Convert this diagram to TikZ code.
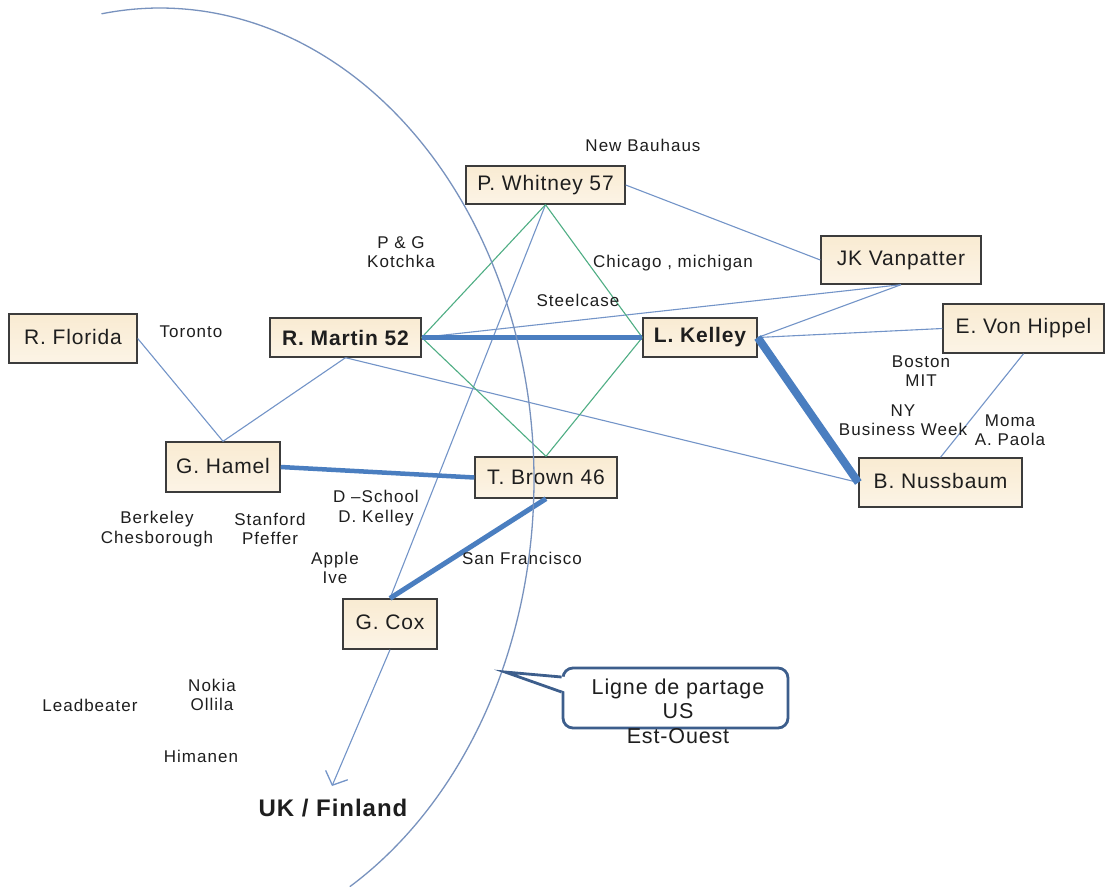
\documentclass[tikz,border=0pt]{standalone}
\usepackage{fontspec}
\setmainfont{Liberation Sans}[LetterSpace=4]
\usetikzlibrary{arrows.meta}
\definecolor{thinblue}{HTML}{7394C8}
\definecolor{arcblue}{HTML}{7892BE}
\definecolor{thickblue}{HTML}{4A7EC0}
\definecolor{linkgreen}{HTML}{4FAE84}
\definecolor{boxtop}{HTML}{F9EBD2}
\definecolor{boxbot}{HTML}{FCF4E6}
\definecolor{boxline}{HTML}{3C3C3C}
\definecolor{txt}{HTML}{1E1E1E}
\definecolor{coline}{HTML}{3D5E8C}
\tikzset{
  box/.style={draw=boxline, line width=1.4pt, top color=boxtop, bottom color=boxbot,
    inner sep=0pt, text=txt, font=\fontsize{21}{24}\selectfont},
  bbox/.style={box, font=\fontsize{21}{24}\selectfont\bfseries},
  lbl/.style={inner sep=0pt, align=center, text=txt,
    font=\fontsize{17}{19.5}\selectfont\addfontfeatures{LetterSpace=6}},
  thin/.style={draw=thinblue, line width=1.1pt},
  green/.style={draw=linkgreen, line width=1.1pt},
  thick/.style={draw=thickblue, line width=#1},
  arcline/.style={draw=arcblue, line width=1.3pt},
}
\begin{document}
\begin{tikzpicture}[x=1pt,y=-1pt]
\useasboundingbox (0,0) rectangle (1105,886);
\fill[white] (0,0) rectangle (1105,886);

% boxes
\node[box, minimum width=159, minimum height=38] (pw) at (545.5,185) {P. Whitney 57};
\node[box, minimum width=160, minimum height=48] (jk) at (901,260) {\raisebox{4pt}{JK Vanpatter}};
\node[box, minimum width=128, minimum height=49] (rf) at (73,338.5) {\raisebox{4pt}{R. Florida}};
\node[bbox, minimum width=151, minimum height=39] (rm) at (345.5,337.5) {R. Martin 52};
\node[box, minimum width=114, minimum height=50] (gh) at (223,467) {\raisebox{3pt}{G. Hamel}};
\node[bbox, minimum width=114, minimum height=39] (lk) at (700,337.5) {L. Kelley};
\node[box, minimum width=161, minimum height=49] (ev) at (1023.5,328.5) {\raisebox{4pt}{E. Von Hippel}};
\node[box, minimum width=163, minimum height=49] (bn) at (940.5,482.5) {\raisebox{3pt}{B. Nussbaum}};
\node[box, minimum width=142, minimum height=41] (tb) at (546,477.5) {T. Brown 46};
\node[box, minimum width=94, minimum height=50] (gc) at (390,624) {\raisebox{3pt}{G. Cox}};

% thin blue links
\draw[thin] (pw.east) -- (jk.west);
\draw[thin] (pw.south) -- (gc.north);
\draw[thin] (rm.east) -- (jk.south);
\draw[thin] (lk.east) -- (jk.south);
\draw[thin] (lk.east) -- (ev.west);
\draw[thin] (rm.south) -- (bn.west);
\draw[thin] (rm.south) -- (gh.north);
\draw[thin] (rf.east) -- (gh.north);
\draw[thin] (ev.south) -- (bn.north);

% green links
\draw[green] (pw.south) -- (rm.east);
\draw[green] (pw.south) -- (lk.west);
\draw[green] (tb.north) -- (rm.east);
\draw[green] (tb.north) -- (lk.west);

% thick links
\draw[thick=5pt] (rm.east) -- (lk.west);
\draw[thick=8pt] (lk.east) -- (bn.west);
\draw[thick=4.5pt] (gh.east) -- (tb.west);
\draw[thick=5pt] (tb.south) -- (gc.north);

% arrow to UK / Finland
\coordinate (ukarrow) at (332,786);
\draw[thin, -{Straight Barb[length=11pt,width=24pt,line width=1.3pt]}] (gc.south) -- (ukarrow);
\node[inner sep=0pt, text=txt, font=\fontsize{24}{26}\selectfont\bfseries] (ukf) at (333,808) {UK / Finland};

% labels
\node[lbl] (newb) at (643,145) {New Bauhaus};
\node[lbl] (chic) at (673,263) {Chicago , michigan};
\node[lbl] (steel) at (578,300) {Steelcase};
\node[lbl] (pg) at (401,252) {P \& G\\Kotchka};
\node[lbl] (tor) at (191,332) {Toronto};
\node[lbl] (berk) at (157,529) {Berkeley\\Chesborough};
\node[lbl] (stan) at (270,529) {Stanford\\Pfeffer};
\node[lbl] (dsch) at (376,508) {D –School\\D. Kelley};
\node[lbl] (apple) at (335,568) {Apple\\Ive};
\node[lbl] (sf) at (522,558) {San Francisco};
\node[lbl] (bos) at (921,371) {Boston\\MIT};
\node[lbl] (ny) at (903,420) {NY\\Business Week};
\node[lbl] (moma) at (1010,430) {Moma\\A. Paola};
\node[lbl] (lead) at (90,705) {Leadbeater};
\node[lbl] (nokia) at (212,695) {Nokia\\Ollila};
\node[lbl] (him) at (201,756) {Himanen};

% dividing arc
\begin{scope}
\clip (0,0) rectangle (1105,886);
\draw[arcline] plot[domain=-99:59.5, samples=140, smooth] ({160+374*cos(\x)}, {480+472*sin(\x)});
\end{scope}

% callout
\node[draw=coline, line width=2.8pt, fill=white, rounded corners=10pt,
      minimum width=225, minimum height=60, inner sep=0pt] (cobox) at (675.5,698) {};
\coordinate (cotip) at (505,672);
\fill[white] (cotip) -- (566.5,677) -- (566.5,692) -- cycle;
\draw[draw=coline, line width=2.8pt, line join=miter] (cobox.west |- 0,677) -- (cotip) -- (cobox.west |- 0,692);
\node[inner sep=0pt, align=center, text=txt, font=\fontsize{21.5}{24.5}\selectfont] (cotext) at (678,711)
  {Ligne de partage\\US\\Est-Ouest};
\end{tikzpicture}
\end{document}
